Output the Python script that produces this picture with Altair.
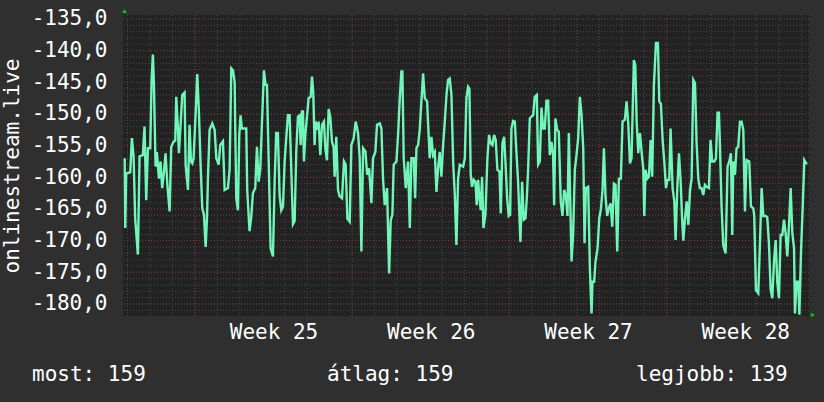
import altair as alt
import pandas as pd

# time in hours from the start of week 25, values in the chart's unit
seg1_h = [-75.0, -74.4, -73.4, -69.1, -67.3, -65.5, -63.8, -60.9, -59.1, -55.6, -53.8, -52.0, -50.2, -47.7,
          -46.3, -44.9, -43.8, -42.0, -40.6, -38.4, -36.7, -34.9, -33.1, -31.3, -29.5, -27.0, -25.3, -22.8,
          -21.0, -19.9, -18.1, -17.1, -15.6, -13.5, -11.0, -9.9, -7.4, -5.7, -4.2, -2.8, -1.4, 0.8, 2.5, 4.3,
          6.1, 7.9, 9.7, 11.5, 12.9, 14.0, 15.7, 18.6, 21.1, 22.9, 25.4, 27.1, 30.0, 31.8, 35.3, 37.1, 38.9,
          40.7, 42.5]
seg1_v = [-157.0, -168.0, -159.4, -159.2, -153.8, -156.7, -166.5, -172.2, -156.7, -156.5, -152.0, -163.6,
          -155.4, -155.4, -144.9, -140.6, -144.9, -158.3, -156.0, -160.2, -157.5, -161.7, -159.2, -156.2,
          -161.0, -165.4, -155.2, -154.4, -154.2, -147.3, -152.3, -156.2, -152.5, -147.0, -146.6, -158.0,
          -162.0, -151.7, -157.5, -157.8, -157.0, -149.9, -143.7, -149.6, -158.0, -164.9, -165.9, -171.0,
          -166.5, -159.9, -152.5, -151.5, -152.5, -157.0, -158.0, -154.9, -154.3, -162.0, -161.7, -158.8,
          -142.8, -143.1, -145.0]

seg2_h = [43.1, 44.2, 46.0, 47.4, 48.8, 50.2, 54.9, 55.9, 58.4, 60.2, 62.0, 64.5, 66.3, 68.1, 69.8, 71.6,
          73.8, 75.5, 77.0, 78.8, 80.9, 83.4, 85.2, 86.9, 88.7, 90.5, 92.3, 94.1, 95.9, 97.6, 99.4, 101.2,
          103.0, 104.8, 106.6, 108.3, 110.1, 111.9, 113.0, 114.4, 115.5, 116.5, 118.0, 120.1, 121.5, 123.7,
          125.1, 126.5, 127.9, 129.0, 130.8, 132.2, 134.0, 135.8, 137.9, 139.3, 141.1, 142.9, 144.7, 146.5,
          148.2, 149.3, 151.1, 152.9, 154.7, 157.2, 159.3, 161.1, 162.9, 165.4]
seg2_v = [-152.0, -163.3, -165.2, -153.3, -150.2, -152.3, -152.3, -162.0, -168.5, -166.3, -162.5, -161.7,
          -155.2, -160.7, -158.8, -151.7, -143.1, -145.4, -145.4, -157.0, -171.2, -172.5, -160.7, -153.0,
          -153.0, -162.8, -165.2, -164.6, -157.5, -153.8, -150.2, -150.2, -158.8, -167.4, -166.9, -156.0,
          -150.4, -150.2, -154.9, -149.6, -149.6, -157.5, -153.3, -149.9, -147.5, -147.3, -144.1, -146.7,
          -154.9, -151.2, -152.5, -151.2, -156.5, -151.7, -151.2, -155.4, -157.3, -149.2, -150.5, -154.4,
          -155.2, -159.9, -153.6, -162.0, -163.0, -163.3, -157.5, -158.0, -166.5, -167.0]

seg3_h = [167.2, 169.7, 171.8, 174.3, 176.1, 177.9, 179.7, 182.2, 184.0, 186.1, 188.6, 190.3, 192.8, 194.6,
          197.5, 199.3, 201.0, 202.8, 205.3, 207.5, 209.2, 211.0, 212.4, 215.3, 217.1, 218.9, 220.6, 221.7,
          223.1, 225.3, 227.8, 229.6, 231.3, 233.8, 235.3, 236.7, 238.5, 240.2, 242.0, 243.8, 245.6, 248.1,
          249.2, 250.9, 252.7, 254.5, 256.3, 258.1, 259.8, 261.6, 263.4, 265.2, 267.0, 268.8, 270.5, 272.3,
          274.1, 275.9, 277.7, 279.4, 281.2, 283.0, 286.6, 288.4]
seg3_v = [-154.9, -153.8, -151.2, -153.0, -157.0, -171.7, -155.4, -155.9, -159.6, -158.6, -164.1, -157.0,
          -156.0, -151.7, -151.5, -152.3, -160.2, -164.4, -161.7, -175.2, -166.8, -165.9, -158.0, -157.5,
          -153.3, -147.5, -143.3, -143.3, -157.0, -161.7, -157.5, -168.0, -157.0, -157.0, -163.3, -155.4,
          -154.9, -152.5, -148.0, -143.6, -147.5, -148.0, -151.7, -157.0, -153.6, -156.5, -156.0, -162.3,
          -158.6, -156.0, -159.9, -154.9, -151.2, -147.0, -144.6, -144.4, -147.0, -157.5, -162.8, -170.7,
          -160.2, -158.0, -158.3, -157.0]

seg4_h = [290.1, 291.9, 293.3, 294.7, 296.1, 297.9, 299.7, 301.1, 302.6, 304.0, 305.4, 306.8, 308.3, 310.4,
          312.5, 314.3, 316.1, 317.9, 319.7, 321.4, 323.2, 325.4, 326.8, 328.6, 330.4, 331.8, 333.6, 335.3,
          336.8, 338.2, 340.0, 341.8, 343.5, 345.3, 347.8, 349.6, 351.4, 353.2, 354.6, 356.0, 357.8, 359.6,
          361.4, 363.1, 365.3, 366.7, 368.5, 370.3, 372.1, 373.8, 375.6, 377.4, 379.2, 381.0, 382.7, 383.8,
          385.2, 387.0, 388.8, 390.9, 392.7, 394.5, 396.3, 398.1, 399.5, 400.9, 402.4, 404.1, 405.9, 407.7,
          409.5]
seg4_v = [-147.5, -145.7, -146.0, -159.6, -161.5, -160.4, -160.7, -164.4, -160.4, -163.3, -165.2, -159.9,
          -168.0, -165.9, -157.0, -153.3, -154.6, -154.9, -153.3, -154.1, -158.8, -159.1, -165.7, -154.6,
          -153.6, -157.5, -163.3, -166.1, -165.9, -152.3, -151.1, -151.2, -156.0, -160.7, -170.2, -160.7,
          -166.7, -166.5, -163.3, -158.8, -150.7, -150.4, -150.2, -147.3, -147.0, -158.0, -157.5, -149.0,
          -152.3, -152.3, -147.9, -147.9, -156.5, -154.4, -156.5, -164.4, -150.7, -152.5, -152.8, -163.8,
          -166.1, -162.0, -162.8, -166.1, -153.0, -162.8, -173.3, -169.1, -158.8, -156.5, -153.8]

seg5_h = [411.3, 413.1, 414.9, 416.3, 417.7, 420.2, 422.0, 423.8, 424.8, 426.6, 428.0, 430.2, 432.0, 433.8,
          435.5, 437.0, 438.7, 440.5, 442.3, 444.1, 445.9, 447.7, 449.4, 451.2, 453.0, 455.1, 456.9, 459.4,
          461.2, 463.0, 464.8, 466.5, 467.6, 469.0, 470.5, 471.9, 473.7, 475.5, 477.2, 479.0, 480.1, 481.5,
          483.3, 485.1, 486.9, 488.6, 490.4, 492.6, 494.7, 496.1, 497.9, 499.7, 501.5, 503.3, 505.0, 506.8,
          508.2, 510.4, 512.2, 513.6, 515.4, 517.2, 519.0, 520.4, 521.8, 523.6, 525.4, 527.2, 529.0, 530.7,
          532.5, 534.3]
seg5_v = [-147.3, -150.2, -155.4, -170.4, -161.7, -161.5, -174.4, -181.5, -176.5, -176.5, -173.3, -171.2,
          -166.5, -165.0, -162.0, -155.4, -163.0, -166.1, -164.9, -164.1, -167.8, -161.0, -161.2, -171.7,
          -160.2, -160.2, -151.2, -150.9, -148.0, -151.5, -157.8, -157.0, -150.2, -141.5, -142.3, -151.0,
          -156.2, -153.0, -155.9, -158.6, -166.1, -158.8, -160.2, -159.9, -154.1, -159.9, -145.4, -138.8,
          -138.8, -148.0, -148.4, -154.1, -157.5, -161.7, -160.4, -160.4, -152.3, -161.7, -163.8, -169.9,
          -161.7, -156.2, -160.7, -166.1, -170.0, -166.5, -163.8, -167.5, -162.0, -160.2, -144.6, -145.1]

seg6_h = [536.0, 537.8, 539.5, 541.3, 543.1, 544.9, 546.7, 549.2, 550.9, 552.7, 554.9, 556.7, 558.4, 559.9,
          560.9, 562.7, 564.5, 567.0, 569.1, 570.9, 572.7, 574.1, 575.2, 577.0, 578.7, 580.5, 582.3, 584.1,
          585.9, 587.7, 589.4, 592.3, 594.1, 596.6, 597.6, 599.4, 601.9, 603.7, 605.5, 607.3, 609.8, 611.5,
          613.3, 615.1, 616.9, 618.7, 620.5, 622.2, 624.0, 625.8, 627.6, 629.4, 631.1, 632.9, 634.7, 636.5,
          638.3, 640.1, 641.1, 642.9, 644.7, 645.8, 647.6, 649.4, 651.1, 652.9, 654.4]
seg6_v = [-154.5, -160.2, -161.7, -161.7, -162.8, -161.2, -161.5, -161.7, -154.1, -157.5, -157.5, -157.0,
          -149.8, -149.8, -154.6, -164.6, -170.7, -172.0, -158.3, -157.5, -156.2, -169.1, -157.5, -159.6,
          -155.4, -155.2, -151.2, -151.2, -152.5, -165.4, -157.3, -157.5, -164.6, -164.9, -166.1, -177.8,
          -178.3, -170.4, -161.7, -166.1, -166.1, -166.3, -170.4, -177.6, -179.1, -173.3, -169.9, -176.5,
          -179.1, -169.1, -169.1, -166.7, -168.8, -172.5, -167.7, -161.7, -168.8, -171.2, -181.5, -176.5,
          -176.5, -181.7, -171.7, -164.6, -157.3, -157.8, -157.8]

y_ticks = [-135, -140, -145, -150, -155, -160, -165, -170, -175, -180]
y_minor = list(range(-181, -134))
x_minor = list(range(-72, 649, 24))
x_major = [0, 168, 336, 504]
week_label_pos = [84, 252, 420, 588]
first_week = 25

stat_labels = ["most", "átlag", "legjobb"]
stat_values = [159, 159, 139]

X_DOMAIN = [-76.8, 656.1]
Y_DOMAIN = [-181.9, -134.37]
FONT = "DejaVu Sans Mono"
W, H = 686, 301

hours = seg1_h + seg2_h + seg3_h + seg4_h + seg5_h + seg6_h
vals = seg1_v + seg2_v + seg3_v + seg4_v + seg5_v + seg6_v
df = pd.DataFrame({"h": hours, "v": vals})

xs = alt.Scale(domain=X_DOMAIN, nice=False, zero=False)
ys = alt.Scale(domain=Y_DOMAIN, nice=False, zero=False)

x_axis = alt.Axis(
    values=week_label_pos, labelExpr=f"'Week ' + ({first_week} + floor(datum.value / 168))",
    title=None, grid=False, ticks=False, domain=False,
    labelFont=FONT, labelFontSize=21, labelColor="#ffffff",
    labelBaseline="alphabetic", labelPadding=22, labelFlush=False,
)
y_axis = alt.Axis(
    values=y_ticks,
    labelExpr="(datum.value < 0 ? '-' : '') + replace(format(abs(datum.value), '.1f'), '.', ',')",
    title="onlinestream.live", titleFont=FONT, titleFontSize=21, titleFontWeight="normal",
    titleColor="#ffffff", titleAngle=270, titleX=-105, titleY=H / 2,
    titleAlign="center", titleBaseline="alphabetic",
    grid=False, ticks=False, domain=False,
    labelFont=FONT, labelFontSize=21, labelColor="#ffffff", labelPadding=16,
    labelBaseline="middle", labelFlush=False,
)

X = alt.X("h:Q", scale=xs, axis=x_axis)
Y = alt.Y("v:Q", scale=ys, axis=y_axis)

line = alt.Chart(df).mark_line(color="#72f5b8", strokeWidth=2.4, clip=True).encode(x=X, y=Y)

minor_y = alt.Chart(pd.DataFrame({"v": y_minor})).mark_rule(
    color="#4a4a4a", strokeWidth=1, strokeDash=[1, 2]
).encode(y=Y)
major_y = alt.Chart(pd.DataFrame({"v": y_ticks})).mark_rule(
    color="#7a3636", strokeWidth=1, strokeDash=[1, 2]
).encode(y=Y)
minor_x = alt.Chart(pd.DataFrame({"h": x_minor})).mark_rule(
    color="#4a4a4a", strokeWidth=1, strokeDash=[1, 2]
).encode(x=X)
major_x = alt.Chart(pd.DataFrame({"h": x_major})).mark_rule(
    color="#7a3636", strokeWidth=1, strokeDash=[1, 2]
).encode(x=X)

stat_x = [-91, 204, 513]
stats = [
    alt.Chart(pd.DataFrame({"t": [f"{l}: {v}"]})).mark_text(
        font=FONT, fontSize=21, color="#ffffff", align="left", baseline="alphabetic"
    ).encode(x=alt.value(px), y=alt.value(366), text="t:N")
    for l, v, px in zip(stat_labels, stat_values, stat_x)
]

arrow_top = alt.Chart(pd.DataFrame({"a": [0]})).mark_point(
    shape="triangle-up", filled=True, color="#00cc00", size=22, opacity=1
).encode(x=alt.value(1.5), y=alt.value(-4))
arrow_right = alt.Chart(pd.DataFrame({"a": [0]})).mark_point(
    shape="triangle-right", filled=True, color="#00cc00", size=22, opacity=1
).encode(x=alt.value(690), y=alt.value(300))

chart = alt.layer(minor_y, minor_x, major_y, major_x, line, *stats, arrow_top, arrow_right).properties(
    width=W, height=H,
    background="#2f2f2f",
    autosize=alt.AutoSizeParams(type="none"),
    padding={"left": 123, "top": 15, "right": 15, "bottom": 86},
).configure_view(fill="#222222", stroke=None)

chart.save("out.html", embed_options={"renderer": "svg", "actions": False})
